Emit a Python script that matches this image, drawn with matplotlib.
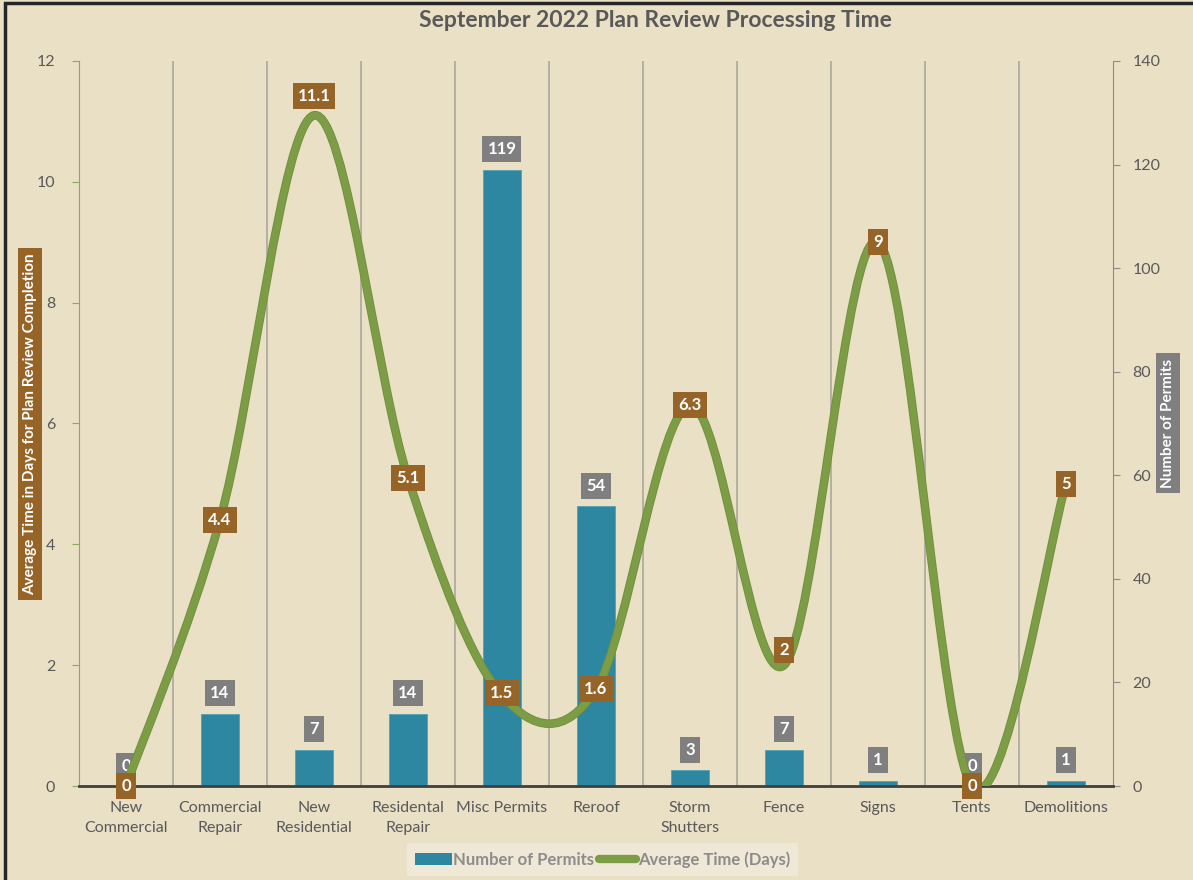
import numpy as np
import matplotlib
matplotlib.use("Agg")
import matplotlib.pyplot as plt
from matplotlib.path import Path
from matplotlib.patches import PathPatch, Patch, Rectangle
from matplotlib.lines import Line2D
import matplotlib.patheffects as pe

plt.rcParams['font.family'] = ['Lato', 'DejaVu Sans']

categories = ["New\nCommercial", "Commercial\nRepair", "New\nResidential", "Residental\nRepair",
              "Misc Permits", "Reroof", "Storm\nShutters", "Fence", "Signs", "Tents", "Demolitions"]
permits = [0, 14, 7, 14, 119, 54, 3, 7, 1, 0, 1]
avg_days = [0, 4.4, 11.1, 5.1, 1.5, 1.6, 6.3, 2, 9, 0, 5]

bg = "#EAE0C5"
teal = "#2D87A0"
green = "#7D9C46"
brown = "#976427"
gray_box = "#7F7F7F"
txt = "#595959"

fig = plt.figure(figsize=(11.93, 8.8), dpi=100, facecolor=bg)
ax2 = fig.add_axes([0.0662, 0.1068, 0.8667, 0.8239])
ax = ax2.twinx()
ax.yaxis.tick_left()
ax2.yaxis.tick_right()
ax.set_zorder(ax2.get_zorder() + 1)
ax.patch.set_visible(False)
ax.xaxis.set_visible(True)
ax2.set_facecolor(bg)

x = np.arange(len(categories))

# bars on the permits axis
for b in x[:-1]:
    ax2.axvline(b + 0.5, color="#A6A29A", lw=1.1, zorder=0)
ax2.bar(x, permits, width=0.41, color=teal, edgecolor="#4FA3BA", linewidth=0.6, zorder=2)
for xi, v in zip(x, permits):
    ax2.annotate(str(v), (xi, v), xytext=(0, 9), textcoords="offset points",
                 ha="center", va="bottom", color="white", fontsize=12, fontweight="bold",
                 bbox=dict(boxstyle="square,pad=0.3", fc=gray_box, ec="none"), zorder=5)

ax2.set_ylim(0, 140)
ax2.set_yticks(range(0, 141, 20))
ax2.set_xlim(-0.5, len(categories) - 0.5)

# smoothed line (bezier segments like Excel's smoothing)
pts = list(zip(x.astype(float), avg_days))
verts = [pts[0]]
codes = [Path.MOVETO]
n = len(pts)
for i in range(n - 1):
    p0 = np.array(pts[max(i - 1, 0)])
    p1 = np.array(pts[i])
    p2 = np.array(pts[i + 1])
    p3 = np.array(pts[min(i + 2, n - 1)])
    c1 = p1 + (p2 - p0) / 6
    c2 = p2 - (p3 - p1) / 6
    verts += [tuple(c1), tuple(c2), tuple(p2)]
    codes += [Path.CURVE4] * 3
curve = PathPatch(Path(verts, codes), fill=False, edgecolor=green, lw=5, capstyle="round",
                  path_effects=[pe.Stroke(linewidth=6.2, foreground="#6F8E3C"), pe.Normal()],
                  zorder=3)
ax.add_patch(curve)

label_offsets = [0, 0, 14, 0, 2, 0, 0, 11, 0, 0, 0]
for xi, v, off in zip(x, avg_days, label_offsets):
    ax.annotate(f"{v:g}", (xi, v), xytext=(0, off), textcoords="offset points",
                ha="center", va="center", color="white", fontsize=12, fontweight="bold",
                bbox=dict(boxstyle="square,pad=0.3", fc=brown, ec="none"), zorder=6)

ax.set_ylim(0, 12)
ax.set_yticks(range(0, 13, 2))
ax.set_xlim(-0.5, len(categories) - 0.5)
ax.set_xticks(x)
ax.set_xticklabels(categories)
for t in ax.get_xticklabels():
    t.set_linespacing(1.55)

for a in (ax, ax2):
    a.spines["top"].set_visible(False)
    a.tick_params(axis="x", length=0, labelsize=11.5, labelcolor=txt, pad=11)
    a.tick_params(axis="y", labelsize=11.5, labelcolor=txt, length=5, pad=10)
ax.spines["left"].set_color("#8EA95A")
ax.spines["right"].set_visible(False)
ax.spines["bottom"].set_color("#3F3F3F")
ax.spines["bottom"].set_linewidth(2)
ax.tick_params(axis="y", color="#8EA95A", pad=12)
ax2.spines["left"].set_visible(False)
ax2.spines["right"].set_color("#8C8C8C")
ax2.spines["bottom"].set_visible(False)
ax2.tick_params(axis="y", color="#8C8C8C", pad=9)
ax2.tick_params(axis="x", labelbottom=False)

fig.text(0.549, 0.977, "September 2022 Plan Review Processing Time", ha="center", va="center",
         fontsize=16.5, fontweight="bold", color=txt)
fig.text(30 / 1193, 1 - 424 / 880, "Average Time in Days for Plan Review Completion",
         rotation=90, ha="center", va="center", color="white", fontsize=11, fontweight="bold",
         bbox=dict(boxstyle="square,pad=0.35", fc=brown, ec="none"))
fig.text(1168 / 1193, 1 - 423 / 880, "Number of Permits",
         rotation=90, ha="center", va="center", color="white", fontsize=11, fontweight="bold",
         bbox=dict(boxstyle="square,pad=0.35", fc=gray_box, ec="none"))

handles = [Patch(facecolor=teal, edgecolor="none"),
           Line2D([0], [0], color=green, lw=6, solid_capstyle="round")]
leg = fig.legend(handles, ["Number of Permits", "Average Time (Days)"], loc="center",
                 bbox_to_anchor=(0.505, 0.023), ncol=2, frameon=True, fancybox=False,
                 facecolor="#EFE8D6", edgecolor="none", framealpha=1, fontsize=12,
                 handlelength=2.2, handletextpad=0.1, columnspacing=0.3, borderpad=0.5)
for t in leg.get_texts():
    t.set_color("#8C8C8C")
    t.set_fontweight("bold")

# outer frame
fig.add_artist(Rectangle((5 / 1193, -0.1), 1.2, 1.1 - 3 / 880, transform=fig.transFigure,
                         fill=False, ec="#262626", lw=2.5))

fig.savefig("out.png", dpi=100, facecolor=bg)
